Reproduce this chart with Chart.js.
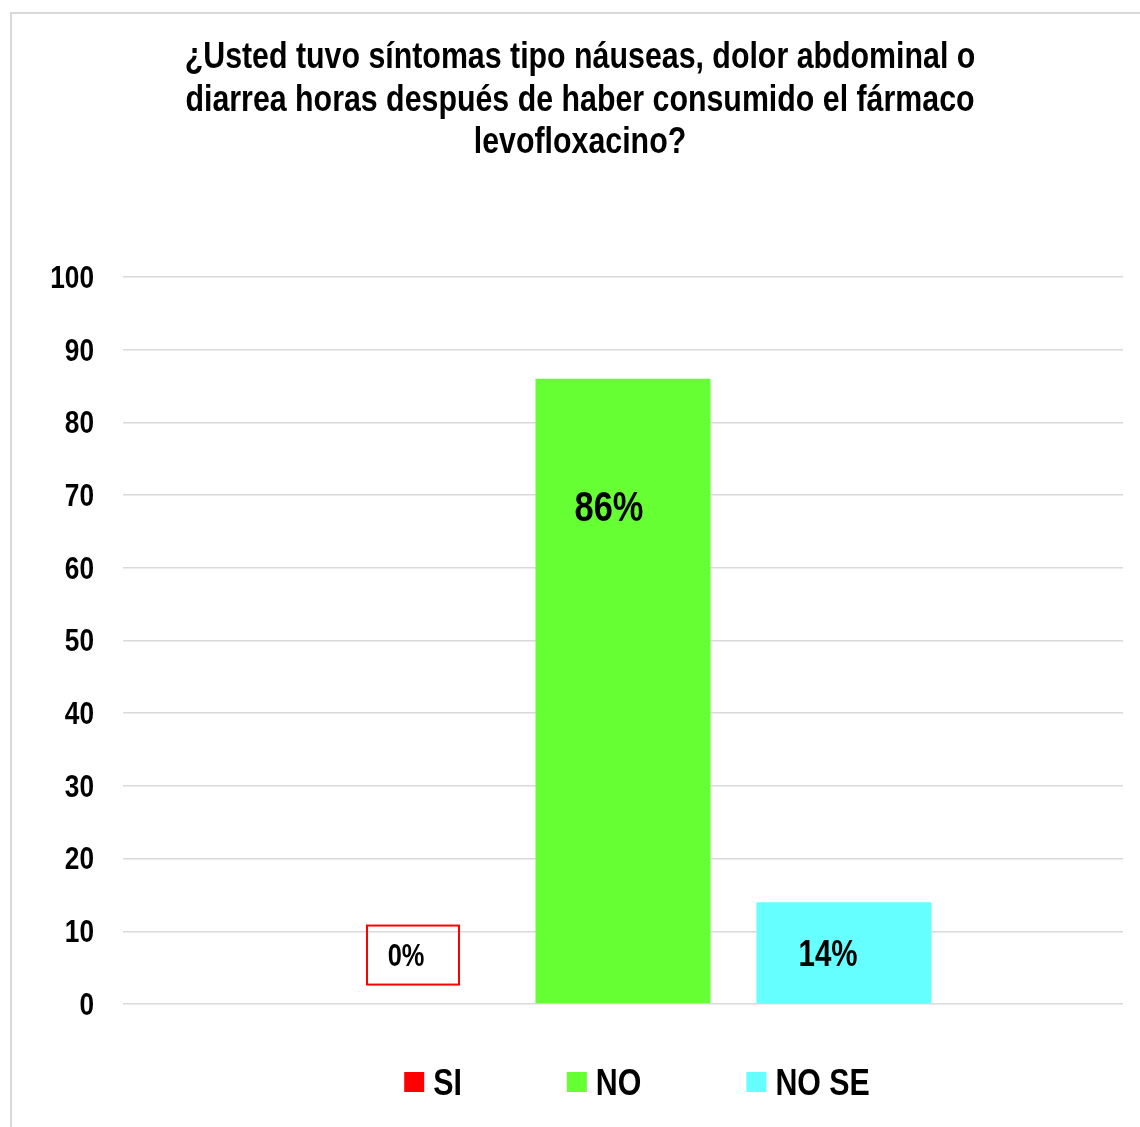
<!DOCTYPE html>
<html>
<head>
<meta charset="utf-8">
<script src="https://cdn.jsdelivr.net/npm/chart.js@4.4.1/dist/chart.umd.min.js"></script>
<style>
  html, body { margin: 0; padding: 0; background: #fff; }
  #wrap { width: 1140px; height: 1127px; position: relative; }
</style>
</head>
<body>
<div id="wrap"><canvas id="myChart" width="1140" height="1127"></canvas></div>
<script>
// no narrow face installed, so text is squeezed by hand
const FONT = '"Liberation Sans", Arial, sans-serif';
const NARROW = 0.82;

const titleLines = [
  '¿Usted tuvo síntomas tipo náuseas, dolor abdominal o',
  'diarrea horas después de haber consumido el fármaco',
  'levofloxacino?'
];
const categories = [''];
const seriesNames = ['SI', 'NO', 'NO SE'];
const seriesValues = [0, 86, 14];
const valueLabels = ['0%', '86%', '14%'];
const seriesColors = ['#FF0000', '#66FF33', '#66FFFF'];
const yTicks = [0, 10, 20, 30, 40, 50, 60, 70, 80, 90, 100];

// where each value label sits: value on the y axis, x shift, font size, framed or not
const labelStyle = [
  { at: 6.8, dx: 4, size: 31, box: true },
  { at: 68.5, dx: -14, size: 42, box: false },
  { at: 7.0, dx: -16, size: 36, box: false }
];

const datasets = seriesNames.map((name, i) => ({
  label: name,
  data: [seriesValues[i]],
  backgroundColor: seriesColors[i],
  borderWidth: 0,
  categoryPercentage: 0.663,
  barPercentage: 0.792
}));

function narrowText(ctx, text, x, y, size, align) {
  ctx.save();
  ctx.font = 'bold ' + size + 'px ' + FONT;
  ctx.textAlign = align;
  ctx.textBaseline = 'middle';
  ctx.translate(x, y);
  ctx.scale(NARROW, 1);
  ctx.fillText(text, 0, 0);
  ctx.restore();
}

function narrowWidth(ctx, text, size) {
  ctx.save();
  ctx.font = 'bold ' + size + 'px ' + FONT;
  const w = ctx.measureText(text).width * NARROW;
  ctx.restore();
  return w;
}

const frame = {
  id: 'frame',
  beforeDraw(chart) {
    const ctx = chart.ctx;
    ctx.save();
    ctx.strokeStyle = '#d9d9d9';
    ctx.lineWidth = 2;
    ctx.strokeRect(11, 13, 1300, 1300);
    ctx.restore();
  }
};

const titleAndTicks = {
  id: 'titleAndTicks',
  afterDraw(chart) {
    const ctx = chart.ctx;
    ctx.fillStyle = '#000';
    titleLines.forEach((line, i) => narrowText(ctx, line, 580, 58 + i * 42.5, 37, 'center'));
    const y = chart.scales.y;
    y.ticks.forEach(t => narrowText(ctx, String(t.value), y.right - 29, y.getPixelForValue(t.value) + 2, 32, 'right'));
  }
};

const valueLabelPlugin = {
  id: 'valueLabels',
  afterDatasetsDraw(chart) {
    const ctx = chart.ctx;
    const y = chart.scales.y;
    ctx.save();
    chart.data.datasets.forEach((ds, i) => {
      const bar = chart.getDatasetMeta(i).data[0];
      const st = labelStyle[i];
      const cx = bar.x + st.dx;
      const cy = y.getPixelForValue(st.at);
      if (st.box) {
        ctx.strokeStyle = '#FF0000';
        ctx.lineWidth = 2;
        ctx.strokeRect(cx - 39, cy - 29, 92, 59);
      }
      ctx.fillStyle = '#000';
      narrowText(ctx, valueLabels[i], cx, cy + 3, st.size, 'center');
    });
    ctx.restore();
  }
};

const bottomLegend = {
  id: 'bottomLegend',
  afterDraw(chart) {
    const ctx = chart.ctx;
    const size = 37;
    const box = 20, gapText = 9, gapItem = 105;
    const items = chart.data.datasets.map(ds => ({
      text: ds.label, color: ds.backgroundColor, w: narrowWidth(ctx, ds.label, size)
    }));
    let total = 0;
    items.forEach((it, i) => { total += box + gapText + it.w + (i ? gapItem : 0); });
    let x = 637 - total / 2;
    const cy = 1082;
    items.forEach(it => {
      ctx.fillStyle = it.color;
      ctx.fillRect(x, cy - box / 2, box, box);
      ctx.fillStyle = '#000';
      narrowText(ctx, it.text, x + box + gapText, cy + 3, size, 'left');
      x += box + gapText + it.w + gapItem;
    });
  }
};

new Chart(document.getElementById('myChart'), {
  type: 'bar',
  data: { labels: categories, datasets: datasets },
  options: {
    responsive: false,
    animation: false,
    layout: { padding: { left: 37, right: 17, top: 277, bottom: 123 } },
    scales: {
      x: { display: false },
      y: {
        min: 0,
        max: 100,
        afterFit(scale) { scale.width = 86; },
        afterBuildTicks(scale) { scale.ticks = yTicks.map(v => ({ value: v })); },
        border: { display: false },
        grid: { color: '#d9d9d9', lineWidth: 1.5, drawTicks: false },
        ticks: { display: false }
      }
    },
    plugins: {
      legend: { display: false },
      tooltip: { enabled: false },
      title: { display: false }
    }
  },
  plugins: [frame, valueLabelPlugin, titleAndTicks, bottomLegend]
});
</script>
</body>
</html>
